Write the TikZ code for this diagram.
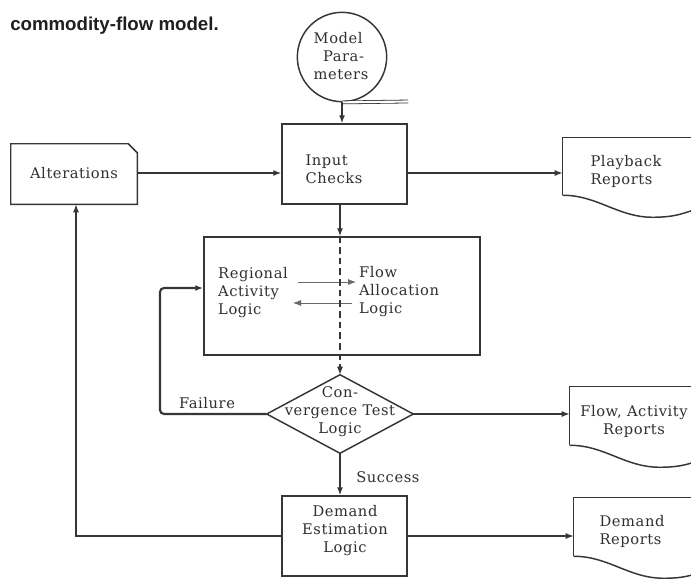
\documentclass[tikz,border=0pt]{standalone}
\usepackage{fontspec}
\setmainfont{DejaVu Serif}[LetterSpace=4]
\newfontfamily\titlefont{Liberation Sans}
\usetikzlibrary{arrows.meta,calc,fit}
\definecolor{lineC}{HTML}{363636}
\definecolor{textC}{HTML}{303030}
\begin{document}
\begin{tikzpicture}[x=0.75pt,y=-0.75pt,
  ink/.style={draw=lineC, line width=1.1pt},
  area/.style={inner sep=0pt, draw=none},
  frame/.style={area, ink},
  txt/.style={text=textC, inner sep=0pt, align=left,
    font=\fontsize{11}{13.5}\selectfont},
  ctxt/.style={txt, align=center},
  tip/.style={-{Latex[length=6pt,width=4.5pt]}},
  conn/.style={ink, tip},
  thinconn/.style={draw=lineC!75, line width=0.6pt, tip},
  loopconn/.style={draw=lineC, line width=1.6pt, tip, rounded corners=3pt},
  spinedash/.style={draw=lineC, line width=0.9pt, dash pattern=on 5pt off 3pt, tip}]

\fill[white] (0,0) rectangle (691,578);
\useasboundingbox (0,0) rectangle (691,578);
\clip (0,0) rectangle (691,578);

% heading
\node[anchor=west, inner sep=0pt, text=black!88,
  font=\titlefont\bfseries\fontsize{14}{17}\selectfont] (title) at (10,26) {commodity-flow model.};

% shared guide positions
\coordinate (spine) at (340,0);
\coordinate (rowA) at (0,173);
\coordinate (backL) at (76,0);
\coordinate (failL) at (160,288);

% magnetic tape: model parameters
\node[circle, ink, inner sep=0pt, minimum size=67pt] (mp) at (342,57) {};
\node[txt] (mpT) at (341,56) {Model\\\hspace{7pt}Para-\\meters};
\coordinate (tapeEnd) at (408,101.5);
\draw[draw=lineC, line width=0.6pt, double, double distance=1.6pt] (mp.south) -- (tapeEnd);

% input checks
\node[frame, fit={(282,124) (407,204)}] (ic) {};
\node[txt] (icT) at (334,169) {Input\\Checks};

% alterations (card with clipped corner)
\node[area, fit={(11,144) (137,204)}] (alt) {};
\draw[ink] (alt.south west) -- (alt.north west) -- ($(alt.north east)+(-9,0)$)
  -- ($(alt.north east)+(0,9)$) -- (alt.south east) -- cycle;
\node[ctxt] (altT) at (74,173) {Alterations};

% playback reports (document)
\node[area, fit={(563,138) (700,195)}] (pb) {};
\draw[ink] (pb.south west) -- (pb.north west) -- (pb.north east);
\draw[ink] (pb.south west) .. controls +(35,0) and +(-35,0) .. ($(pb.south west)+(90,22)$)
  .. controls +(25,0) and +(-15,4) .. ($(pb.south west)+(137,13)$);
\node[txt] (pbT) at (626,171) {Playback\\Reports};

% regional activity / flow allocation
\node[frame, fit={(204,237) (480,355)}] (ra) {};
\node[txt] (raT) at (253,293) {Regional\\Activity\\Logic};
\node[txt] (faT) at (399,292) {Flow\\Allocation\\Logic};
\coordinate (rfS) at (298,282);
\coordinate (rfE) at (356,282);
\coordinate (frS) at (352,303);
\coordinate (frE) at (293,303);
\draw[thinconn] (rfS) -- (rfE);
\draw[thinconn] (frS) -- (frE);

% convergence test
\node[area, fit={(267,375) (413,453)}] (cv) {};
\draw[ink] (cv.north) -- (cv.east) -- (cv.south) -- (cv.west) -- cycle;
\node[ctxt] (cvT) at (340,412) {Con-\\vergence Test\\Logic};

% flow, activity reports (document)
\node[area, fit={(570,387) (707,445)}] (fa) {};
\draw[ink] (fa.south west) -- (fa.north west) -- (fa.north east);
\draw[ink] (fa.south west) .. controls +(35,0) and +(-35,0) .. ($(fa.south west)+(90,22)$)
  .. controls +(25,0) and +(-15,4) .. ($(fa.south west)+(137,13)$);
\node[ctxt] (faRT) at (634,421) {Flow, Activity\\Reports};

% demand estimation
\node[frame, fit={(282,496) (407,576)}] (de) {};
\node[ctxt] (deT) at (345,531) {Demand\\Estimation\\Logic};

% demand reports (document)
\node[area, fit={(574,498) (711,556)}] (dr) {};
\draw[ink] (dr.south west) -- (dr.north west) -- (dr.north east);
\draw[ink] (dr.south west) .. controls +(35,0) and +(-35,0) .. ($(dr.south west)+(90,22)$)
  .. controls +(25,0) and +(-15,4) .. ($(dr.south west)+(137,13)$);
\node[txt] (drT) at (632,531) {Demand\\Reports};

% connectors
\draw[conn] (mp.south) -- (mp.south |- ic.north);
\draw[conn] (alt.east |- rowA) -- (ic.west |- rowA);
\draw[conn] (ic.east |- rowA) -- (pb.west |- rowA);
\draw[conn] (ic.south -| spine) -- (ra.north -| spine);
\draw[spinedash] (ra.north -| spine) -- (cv.north);
\draw[loopconn] (cv.west) -| (failL) -- (failL -| ra.west);
\node[txt] (failT) at (207,403) {Failure};
\draw[conn] (cv.south) -- (cv.south |- de.north);
\node[txt, anchor=west] (succT) at (356,477) {Success};
\draw[conn] (cv.east) -- (cv.east -| fa.west);
\draw[conn] (de.east) -- (de.east -| dr.west);
\draw[conn] (de.west) -| (alt.south -| backL);
\end{tikzpicture}
\end{document}
